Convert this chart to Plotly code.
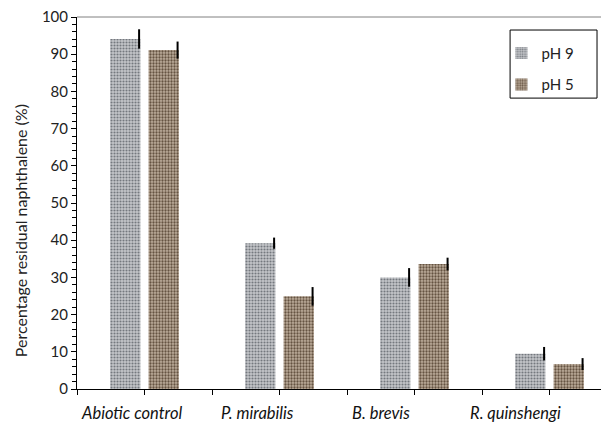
import plotly.graph_objects as go

categories = ["Abiotic control", "P. mirabilis", "B. brevis", "R. quinshengi"]
ph9_values = [94.1, 39.2, 30.0, 9.5]
ph9_errors = [2.6, 1.5, 2.5, 1.8]
ph5_values = [91.1, 24.9, 33.6, 6.7]
ph5_errors = [2.3, 2.5, 1.7, 1.6]
y_ticks = [0, 10, 20, 30, 40, 50, 60, 70, 80, 90, 100]

FONT = "Lato, Liberation Sans, sans-serif"
idx = list(range(len(categories)))

BAR_W = 0.225
OFF9 = -0.255
OFF5 = 0.03

fig = go.Figure()
fig.add_trace(go.Bar(
    x=idx, y=ph9_values, name="pH 9", width=BAR_W, offset=OFF9,
    marker=dict(color="#c0c2c6", line=dict(width=0),
                pattern=dict(shape=".", bgcolor="#c4c6ca", fgcolor="#74787e",
                             size=3, solidity=0.4, fillmode="replace")),
    legendgroup="a",
))
fig.add_trace(go.Bar(
    x=idx, y=ph5_values, name="pH 5", width=BAR_W, offset=OFF5,
    marker=dict(color="#b5a492", line=dict(width=0),
                pattern=dict(shape=".", bgcolor="#bdad9b", fgcolor="#655342",
                             size=3, solidity=0.45, fillmode="replace")),
    legendgroup="b",
))
# error bars at the right edge of each bar
fig.add_trace(go.Scatter(
    x=[i + OFF9 + BAR_W - 0.01 for i in idx], y=ph9_values, mode="markers",
    marker=dict(size=0.1, color="black", opacity=0), showlegend=False, hoverinfo="skip",
    error_y=dict(type="data", array=ph9_errors, color="black", thickness=2, width=0),
))
fig.add_trace(go.Scatter(
    x=[i + OFF5 + BAR_W - 0.01 for i in idx], y=ph5_values, mode="markers",
    marker=dict(size=0.1, color="black", opacity=0), showlegend=False, hoverinfo="skip",
    error_y=dict(type="data", array=ph5_errors, color="black", thickness=2, width=0),
))

xt = []
for i in idx:
    xt += [i - 0.5, i]
xt.append(idx[-1] + 0.5)

# page body has an 8px margin, so the figure is drawn offset by (8, 8)
fig.update_layout(
    width=609, height=423,
    margin=dict(l=69, r=0, t=9, b=42, autoexpand=False),
    paper_bgcolor="white", plot_bgcolor="white",
    barmode="overlay",
    font=dict(family=FONT, color="#222222"),
    showlegend=True,
    legend=dict(x=0.786, y=0.947, xanchor="left", yanchor="top",
                bgcolor="rgba(0,0,0,0)", borderwidth=0,
                font=dict(size=15, family=FONT, color="#222222"),
                tracegroupgap=9, itemwidth=30),
    xaxis=dict(range=[-0.5, 3.5], tickvals=xt, ticktext=[""] * len(xt),
               ticks="outside", ticklen=5, tickcolor="black", automargin=False,
               showline=True, linecolor="black", linewidth=1,
               showgrid=False, zeroline=False),
    yaxis=dict(range=[0, 100], tickvals=y_ticks, ticks="outside", ticklen=5,
               tickcolor="black", showline=True, linecolor="black", linewidth=1,
               showgrid=False, zeroline=False, automargin=False,
               ticklabeloverflow="allow",
               minor=dict(dtick=2, ticks="outside", ticklen=4, tickcolor="black"),
               tickfont=dict(size=15, family=FONT, color="#222222")),
    shapes=[
        dict(type="line", xref="paper", yref="paper", x0=0, x1=1, y0=1, y1=1,
             line=dict(color="#808080", width=1)),
        dict(type="rect", xref="paper", yref="paper", x0=0.802, x1=0.963,
             y0=0.782, y1=0.965, line=dict(color="black", width=1),
             fillcolor="rgba(0,0,0,0)", layer="above"),
    ],
)

fig.add_annotation(x=-0.1056, y=0.427, xref="paper", yref="paper",
                   xanchor="center", yanchor="middle", textangle=-90,
                   text="Percentage residual naphthalene (%)", showarrow=False,
                   font=dict(size=16, family=FONT, color="#222222"))

label_shift = [-13, -22, -34, -34]
for i, (c, s) in enumerate(zip(categories, label_shift)):
    fig.add_annotation(x=i, y=0, xref="x", yref="y", yanchor="top", yshift=-12,
                       xshift=s, text="<i>" + c + "</i>", showarrow=False,
                       font=dict(size=16.5, family=FONT, color="#111111"))

fig.write_html("out.html")
